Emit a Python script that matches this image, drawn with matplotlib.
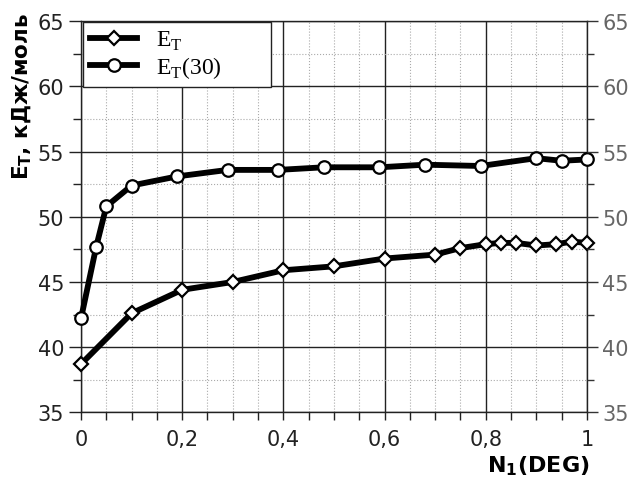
import matplotlib.pyplot as plt
from matplotlib.ticker import MultipleLocator, FuncFormatter

plt.rcParams['font.family'] = 'DejaVu Sans'
plt.rcParams['mathtext.fontset'] = 'dejavusans'

# Et values
x_et = [0, 0.1, 0.2, 0.3, 0.4, 0.5, 0.6, 0.7, 0.75, 0.8, 0.83, 0.86, 0.9, 0.94, 0.97, 1.0]
y_et = [38.7, 42.6, 44.4, 45.0, 45.9, 46.2, 46.8, 47.1, 47.6, 47.9, 48.0, 48.0, 47.8, 47.9, 48.1, 48.0]

# Et(30) values
x_et30 = [0, 0.03, 0.05, 0.1, 0.19, 0.29, 0.39, 0.48, 0.59, 0.68, 0.79, 0.9, 0.95, 1.0]
y_et30 = [42.2, 47.7, 50.8, 52.4, 53.1, 53.6, 53.6, 53.8, 53.8, 54.0, 53.9, 54.5, 54.3, 54.4]

fig = plt.figure(figsize=(6.31, 4.81), dpi=100)
ax = fig.add_axes([0.1284, 0.1407, 0.930 - 0.1284, 0.9536 - 0.1407])

ax.plot(x_et, y_et, '-D', color='black', lw=4.2, ms=7.5, mfc='white', mec='black', mew=1.6,
        clip_on=False, zorder=5, label=r'E$_\mathregular{T}$')
ax.plot(x_et30, y_et30, '-o', color='black', lw=4.2, ms=9, mfc='white', mec='black', mew=1.6,
        clip_on=False, zorder=5, label=r'E$_\mathregular{T}$(30)')

ax.set_xlim(0, 1)
ax.set_ylim(35, 65)
ax.xaxis.set_major_locator(MultipleLocator(0.2))
ax.xaxis.set_minor_locator(MultipleLocator(0.05))
ax.yaxis.set_major_locator(MultipleLocator(5))
ax.yaxis.set_minor_locator(MultipleLocator(2.5))
ax.xaxis.set_major_formatter(FuncFormatter(lambda v, p: ('%g' % round(v, 2)).replace('.', ',')))

ax.grid(which='major', color='#222222', lw=1.0)
ax.grid(which='minor', color='#aaaaaa', lw=0.8, ls=':')
ax.set_axisbelow(True)

for s in ax.spines.values():
    s.set_linewidth(1.0)
    s.set_color('#222222')

ax.tick_params(axis='y', which='major', direction='out', length=9, width=1, labelsize=15,
               colors='#222222', pad=3)
ax.tick_params(axis='y', which='minor', direction='out', length=6, width=1, colors='#222222')
ax.tick_params(axis='x', which='both', direction='out', length=6, width=1, colors='#222222')
ax.tick_params(axis='x', which='major', labelsize=15, pad=6)

ax2 = ax.twinx()
ax2.set_ylim(35, 65)
ax2.yaxis.set_major_locator(MultipleLocator(5))
ax2.yaxis.set_minor_locator(MultipleLocator(2.5))
ax2.tick_params(which='major', direction='out', length=8, width=1, labelsize=15,
                colors='#333333', labelcolor='#666666', pad=3)
ax2.tick_params(which='minor', direction='out', length=5, width=1, colors='#333333')
for s in ax2.spines.values():
    s.set_visible(False)

ax.set_ylabel(r'E$_\mathregular{T}$, кДж/моль', fontsize=15.5, fontweight='bold')
ax.yaxis.set_label_coords(-0.093, 0.81)
fig.text(0.935, 0.03, r'N$_\mathregular{1}$(DEG)', fontsize=16, fontweight='bold', ha='right', va='center')

leg = ax.legend(loc='upper left', bbox_to_anchor=(0.004, 0.0, 0.372, 0.999), mode='expand',
                fancybox=False, framealpha=1, edgecolor='#222222', handlelength=2.0,
                handletextpad=0.8, borderpad=0.3, labelspacing=0.1,
                prop={'family': 'Liberation Serif', 'size': 17}, borderaxespad=0)
leg.get_frame().set_linewidth(1.0)
leg.set_zorder(10)

fig.savefig('out.png', dpi=100)
